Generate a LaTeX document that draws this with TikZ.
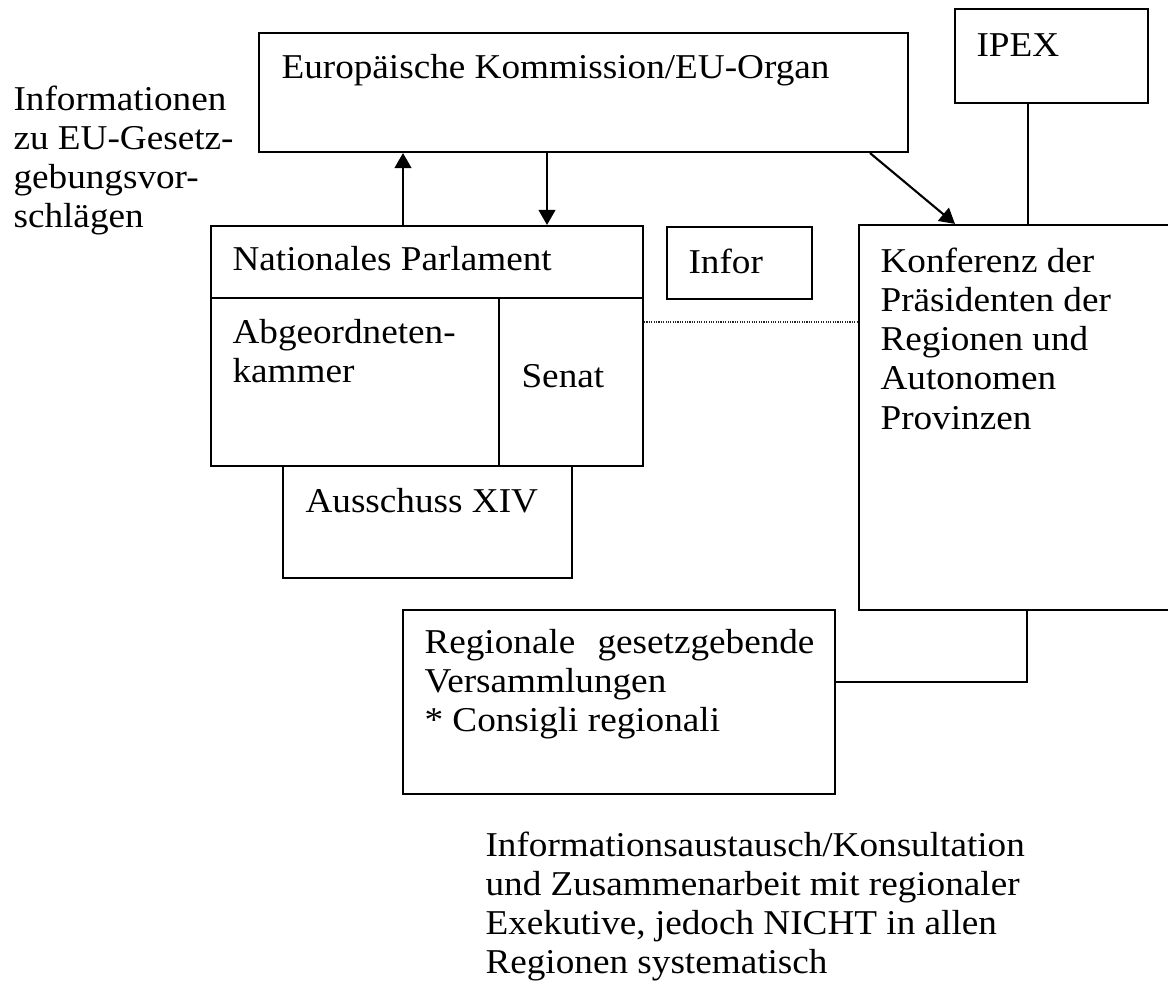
\documentclass[tikz,border=0pt]{standalone}
\usepackage{fontspec}
\setmainfont{Liberation Serif}[FakeStretch=1.068]
\usetikzlibrary{arrows.meta,fit}
% stacked lines whose first baseline is the node baseline
\newcommand\txtrows[1]{\begin{tabular}[t]{@{}l@{}}#1\end{tabular}}

\begin{document}
\begin{tikzpicture}[x=0.356pt,y=-0.356pt,
  box/.style={draw, line width=0.75pt, inner sep=0pt, rectangle},
  txt/.style={anchor=base west, inner sep=0pt, font=\fontsize{12.4}{14}\selectfont},
  arr/.style={line width=0.75pt, -{Triangle[width=6pt,length=5.4pt]}},
  link/.style={line width=0.75pt},
  dots/.style={line width=0.4pt, dash pattern=on 0.4pt off 0.45pt, black!85}]

\useasboundingbox (0,0) rectangle (1168,995);
\clip (0,0) rectangle (1168,995);

% boxes
\node[box, fit={(259,33) (908,152)}] (ek) {};
\node[box, fit={(955,9) (1148,103)}] (ipex) {};
\node[box, fit={(211,226) (643,298)}] (nphead) {};
\node[box, fit={(211,298) (499,466)}] (abg) {};
\node[box, fit={(499,298) (643,466)}] (senat) {};
\node[box, fit={(283,466) (572,578)}] (aus) {};
\node[box, fit={(667,227) (812,299)}] (infor) {};
\node[box, fit={(859,225) (1190,610)}] (konf) {};
\node[box, fit={(403,610) (835,794)}] (reg) {};

% texts
\node[txt] (ekT) at (281,78) {Europäische Kommission/EU-Organ};
\node[txt] (ipexT) at (976,56) {IPEX};
\node[txt] (infoT) at (13,110) {\txtrows{Informationen\\ zu EU-Gesetz-\\ gebungsvor-\\ schlägen}};
\node[txt] (npT) at (232,270) {Nationales Parlament};
\node[txt] (abgT) at (232,343) {\txtrows{Abgeordneten-\\ kammer}};
\node[txt] (senatT) at (521,387) {Senat};
\node[txt] (ausT) at (305,512) {Ausschuss XIV};
\node[txt] (inforT) at (688,273) {Infor};
\node[txt] (konfT) at (880,272) {\txtrows{Konferenz der\\ Präsidenten der\\ Regionen und\\ Autonomen\\ Provinzen}};
\node[txt] (regT) at (424,653) {\txtrows{\hbox to 138.8pt{Regionale\hfil gesetzgebende}\\ Versammlungen\\ \relax* Consigli regionali}};
\node[txt] (noteT) at (485,856) {\txtrows{Informationsaustausch/Konsultation\\ und Zusammenarbeit mit regionaler\\ Exekutive, jedoch NICHT in allen\\ Regionen systematisch}};

% connector positions
\coordinate (upx) at (403,0);
\coordinate (dnx) at (547,0);
\coordinate (dgA) at (870,0);
\coordinate (dgB) at (955,0);
\coordinate (ipx) at (1028,0);
\coordinate (doty) at (0,322);
\coordinate (regy) at (0,682);
\coordinate (regx) at (1027,0);

% connectors
\draw[arr] (nphead.north -| upx) -- (ek.south -| upx);
\draw[arr] (ek.south -| dnx) -- (nphead.north -| dnx);
\draw[arr] (ek.south -| dgA) -- (konf.north -| dgB);
\draw[link] (ipex.south -| ipx) -- (konf.north -| ipx);
\draw[dots] (senat.east |- doty) -- (konf.west |- doty);
\draw[link] (reg.east |- regy) -| (konf.south -| regx);
\end{tikzpicture}
\end{document}
